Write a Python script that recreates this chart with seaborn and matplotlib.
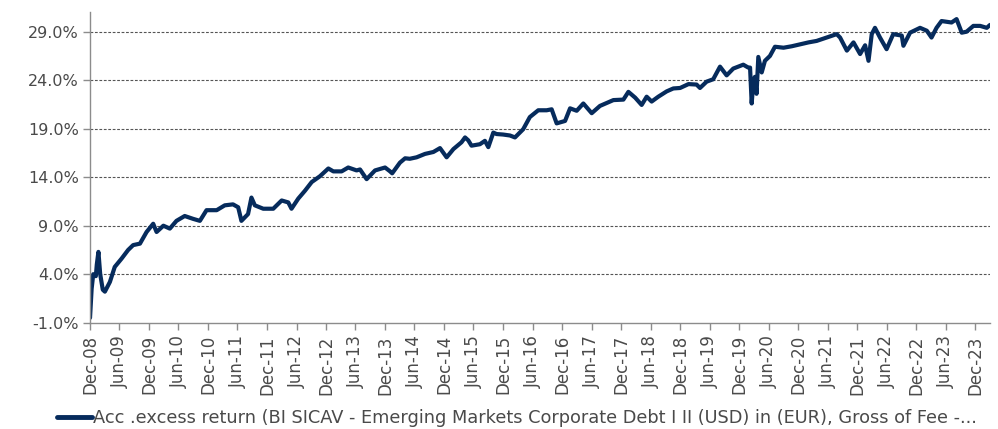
import matplotlib
matplotlib.use("Agg")
import matplotlib.pyplot as plt
import matplotlib.dates as mdates
import seaborn as sns
import pandas as pd
from matplotlib.ticker import FuncFormatter, FixedLocator

# ---- data ----
dates = [
    "2008-12-01", "2008-12-11", "2008-12-21", "2009-01-06", "2009-01-12", "2009-01-22",
    "2009-02-02", "2009-02-18", "2009-03-03", "2009-04-03", "2009-05-03", "2009-06-14",
    "2009-07-25", "2009-08-25", "2009-10-06", "2009-11-16", "2009-12-27", "2010-01-17",
    "2010-02-28", "2010-04-09", "2010-05-20", "2010-07-10", "2010-09-01", "2010-10-12",
    "2010-11-22", "2011-01-24", "2011-03-15", "2011-05-05", "2011-06-06", "2011-06-26",
    "2011-08-06", "2011-08-27", "2011-09-17", "2011-11-08", "2012-01-09", "2012-03-01",
    "2012-04-11", "2012-05-01", "2012-06-12", "2012-07-23", "2012-09-03", "2012-10-24",
    "2012-12-15", "2013-01-15", "2013-03-07", "2013-04-17", "2013-06-08", "2013-06-29",
    "2013-08-09", "2013-09-30", "2013-12-01", "2014-01-01", "2014-01-14", "2014-03-03",
    "2014-04-04", "2014-05-03", "2014-06-14", "2014-08-05", "2014-09-26", "2014-11-06",
    "2014-12-17", "2015-01-28", "2015-03-19", "2015-04-10", "2015-04-30", "2015-05-20",
    "2015-07-11", "2015-08-11", "2015-09-01", "2015-10-02", "2015-10-22", "2015-12-01",
    "2016-01-13", "2016-02-13", "2016-04-04", "2016-05-15", "2016-07-06", "2016-08-27",
    "2016-09-27", "2016-10-28", "2016-12-19", "2017-01-19", "2017-03-01", "2017-04-11",
    "2017-06-02", "2017-07-23", "2017-10-14", "2017-12-15", "2018-01-15", "2018-02-26",
    "2018-04-07", "2018-05-08", "2018-06-08", "2018-07-19", "2018-09-09", "2018-10-20",
    "2018-12-01", "2019-01-22", "2019-03-13", "2019-04-03", "2019-05-14", "2019-06-24",
    "2019-08-05", "2019-09-15", "2019-10-26", "2019-12-27", "2020-01-27", "2020-02-07",
    "2020-02-17", "2020-02-28", "2020-03-08", "2020-03-18", "2020-03-29", "2020-04-19",
    "2020-05-09", "2020-06-09", "2020-07-10", "2020-09-01", "2020-10-22", "2020-12-13",
    "2021-02-03", "2021-03-25", "2021-05-26", "2021-07-27", "2021-08-17", "2021-09-28",
    "2021-11-08", "2021-12-19", "2022-01-19", "2022-02-09", "2022-03-01", "2022-03-21",
    "2022-04-21", "2022-06-01", "2022-07-12", "2022-09-03", "2022-09-13", "2022-10-24",
    "2022-12-25", "2023-02-05", "2023-03-06", "2023-04-06", "2023-05-07", "2023-07-08",
    "2023-08-08", "2023-09-09", "2023-10-09", "2023-11-20", "2024-01-01", "2024-02-11",
    "2024-03-02",
]
excess_return = [
    -0.5, 2.5, 4.0, 3.8, 5.0, 6.3,
    4.0, 2.4, 2.2, 3.2, 4.75, 5.6,
    6.5, 7.0, 7.15, 8.35, 9.2, 8.35,
    9.0, 8.7, 9.5, 10.0, 9.7, 9.5,
    10.6, 10.6, 11.1, 11.2, 10.9, 9.5,
    10.2, 11.9, 11.1, 10.75, 10.75, 11.6,
    11.4, 10.75, 11.8, 12.6, 13.5, 14.1,
    14.9, 14.6, 14.6, 15.0, 14.7, 14.8,
    13.8, 14.7, 15.0, 14.6, 14.4, 15.5,
    15.95, 15.9, 16.05, 16.4, 16.6, 17.0,
    16.05, 16.9, 17.6, 18.1, 17.8, 17.25,
    17.4, 17.75, 17.1, 18.6, 18.45, 18.4,
    18.3, 18.1, 18.95, 20.2, 20.9, 20.9,
    21.0, 19.55, 19.8, 21.1, 20.85, 21.6,
    20.6, 21.35, 21.95, 22.0, 22.8, 22.2,
    21.45, 22.3, 21.8, 22.3, 22.85, 23.15,
    23.2, 23.6, 23.55, 23.2, 23.85, 24.1,
    25.4, 24.5, 25.2, 25.6, 25.3, 25.3,
    21.6, 24.0, 24.35, 22.6, 26.4, 24.8,
    26.0, 26.5, 27.45, 27.35, 27.5, 27.7,
    27.9, 28.05, 28.4, 28.75, 28.4, 27.05,
    27.9, 26.7, 27.6, 26.0, 28.75, 29.4,
    28.4, 27.2, 28.75, 28.6, 27.55, 28.9,
    29.4, 29.1, 28.4, 29.4, 30.1, 29.95,
    30.3, 28.9, 29.0, 29.6, 29.6, 29.4,
    29.7,
]
series_label = ("Acc .excess return (BI SICAV - Emerging Markets Corporate Debt I II (USD) "
                "in (EUR), Gross of Fee -...")
y_ticks = [-1.0, 4.0, 9.0, 14.0, 19.0, 24.0, 29.0]
x_tick_dates = pd.date_range("2008-12-01", "2023-12-01", freq="6MS")

df = pd.DataFrame({"date": pd.to_datetime(dates), "value": excess_return})

sns.set_theme(style="white")
plt.rcParams["font.family"] = ["DejaVu Sans"]

fig = plt.figure(figsize=(9.98, 4.29), dpi=100)
ax = fig.add_axes([0.0902, 0.2478, 0.9018, 0.7235])

line_color = "#062b5c"
sns.lineplot(data=df, x="date", y="value", ax=ax, color=line_color, linewidth=3.0,
             label=series_label)

ax.set_ylim(-1.0, 31.0)
ax.set_xlim(pd.Timestamp("2008-12-01"), pd.Timestamp("2024-03-02"))
ax.yaxis.set_major_locator(FixedLocator(y_ticks))
ax.yaxis.set_major_formatter(FuncFormatter(lambda v, p: f"{v:.1f}%"))
ax.xaxis.set_major_locator(FixedLocator(mdates.date2num(x_tick_dates)))
ax.xaxis.set_major_formatter(mdates.DateFormatter("%b-%y"))

for yv in y_ticks[1:]:
    ax.axhline(yv, color="#555555", linestyle=(0, (2.5, 1.5)), linewidth=0.8, zorder=0)

for s in ["top", "right"]:
    ax.spines[s].set_visible(False)
for s in ["left", "bottom"]:
    ax.spines[s].set_color("#8c8c8c")
    ax.spines[s].set_linewidth(1.0)

text_color = "#4a4a4a"
ax.tick_params(axis="x", which="major", direction="out", length=5, width=1.0,
               color="#8c8c8c", labelsize=12, labelcolor=text_color, rotation=90, pad=4,
               bottom=True)
ax.tick_params(axis="y", which="major", direction="out", length=5, width=1.0,
               color="#8c8c8c", labelsize=11.5, labelcolor=text_color, pad=3, left=True)
ax.set_xlabel("")
ax.set_ylabel("")

leg = ax.legend(loc="center left", bbox_to_anchor=(0.057, 0.026), bbox_transform=fig.transFigure,
                frameon=False, fontsize=12.8, handlelength=2.0, handletextpad=0.05,
                borderpad=0, borderaxespad=0)
for t in leg.get_texts():
    t.set_color(text_color)
for h in leg.get_lines():
    h.set_linewidth(3.5)

fig.savefig("out.png", dpi=100)
